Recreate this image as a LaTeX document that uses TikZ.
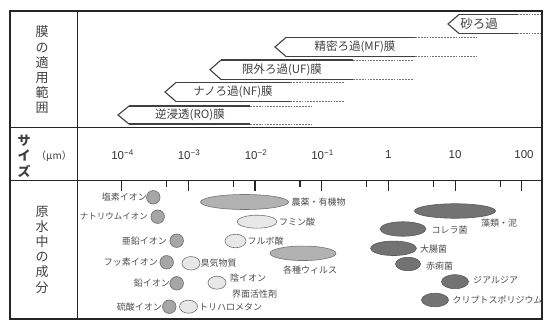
\documentclass[tikz,border=0pt]{standalone}
\usepackage{fontspec}
\setmainfont{Liberation Sans}
\newfontfamily\jp{Noto Sans CJK JP}
\usetikzlibrary{shapes.geometric}
\begin{document}
\begin{tikzpicture}[x=1pt,y=-1pt,
  frame/.style={draw=black!85, line width=1.3pt},
  sepline/.style={draw=black!85, line width=1.6pt},
  bandsolid/.style={draw=black!75, line width=1.1pt, line join=miter},
  banddash/.style={draw=black!55, line width=0.8pt, dash pattern=on 1.8pt off 1.1pt},
  bandlabel/.style={font=\jp\fontsize{11.5}{12}\selectfont, text=black!75, inner sep=0},
  sidelabel/.style={font=\jp\fontsize{13}{15.2}\selectfont, text=black!75, align=center, inner sep=0},
  ticklabel/.style={font=\fontsize{11.5}{12}\selectfont, text=black!80, inner sep=0},
  itemlabel/.style={font=\jp\fontsize{9}{11}\selectfont, text=black!70, inner sep=0},
  ion/.style={circle, draw=black!60, fill=black!35, line width=0.6pt, minimum size=13.5pt, inner sep=0},
  lightov/.style={ellipse, draw=black!55, fill=black!9, line width=0.6pt, inner sep=0},
  midov/.style={ellipse, draw=black!55, fill=black!30, line width=0.6pt, inner sep=0},
  darkov/.style={ellipse, draw=black!65, fill=black!55, line width=0.6pt, inner sep=0},
  tickmark/.style={draw=black!85, line width=1.1pt},
]
\useasboundingbox (0,0) rectangle (545,320);

% frame and grid
\draw[frame] (10,11) rectangle (542,319);
\draw[frame] (77.5,11) -- (77.5,319);
\draw[sepline] (10,127.5) -- (542,127.5);
\draw[sepline] (10,180.5) -- (542,180.5);

% side labels
\node[sidelabel] (lmem) at (42,70) {膜\\の\\適\\用\\範\\囲};
\node[sidelabel, font=\jp\bfseries\fontsize{13}{15.5}\selectfont] (lsize) at (24,156) {サ\\イ\\ズ};
\node[inner sep=0, font=\jp\fontsize{10}{12}\selectfont, text=black!75] (lunit) at (54,156) {（μm）};
\node[sidelabel] (lraw) at (42,249.5) {原\\水\\中\\の\\成\\分};

% membrane bands: tip x, top y, bottom y, solid end, dashed end
\foreach \xt/\yt/\yb/\xs/\xd in {448/14.5/33.5/517/541, 275/37.5/56.5/415/477, 210/60/79.5/353/413, 165/82.5/101.5/290/345, 118/106/124/250/312}{
  \draw[bandsolid] (\xt+11,\yt) -- (\xt,{(\yt+\yb)/2}) -- (\xt+11,\yb);
  \draw[bandsolid] (\xt+11,\yt) -- (\xs,\yt);
  \draw[bandsolid] (\xt+11,\yb) -- (\xs,\yb);
  \draw[banddash] (\xs,\yt) -- (\xd,\yt);
  \draw[banddash] (\xs,\yb) -- (\xd,\yb);
}
\node[bandlabel, font=\jp\fontsize{12.5}{13}\selectfont] (bsand) at (479,24) {砂ろ過};
\node[bandlabel] (bmf) at (355,47) {精密ろ過(MF)膜};
\node[bandlabel] (buf) at (282,70) {限外ろ過(UF)膜};
\node[bandlabel] (bnf) at (233,92) {ナノろ過(NF)膜};
\node[bandlabel] (bro) at (190,115) {逆浸透(RO)膜};

% size axis labels
\node[ticklabel] (s1) at (122.5,155) {10\textsuperscript{−4}};
\node[ticklabel] (s2) at (189,155) {10\textsuperscript{−3}};
\node[ticklabel] (s3) at (256,155) {10\textsuperscript{−2}};
\node[ticklabel] (s4) at (322.5,155) {10\textsuperscript{−1}};
\node[ticklabel] (s5) at (388.3,155) {1};
\node[ticklabel] (s6) at (455,155) {10};
\node[ticklabel] (s7) at (524,155) {100};

% ticks
\foreach \k in {0,...,6}{
  \draw[tickmark] ({121.7+66.67*\k},180.5) -- ({121.7+66.67*\k},191.5);
}
\foreach \k in {0,...,5}{
  \draw[tickmark] ({166.7+66.67*\k},180.5) -- ({166.7+66.67*\k},187);
}

% ions (circles)
\node[ion] (c1) at (153.3,197.3) {};
\node[ion] (c2) at (157.7,216.7) {};
\node[ion] (c3) at (176.7,240.7) {};
\node[ion] (c4) at (166.7,262.3) {};
\node[ion] (c5) at (176.7,283.3) {};
\node[ion] (c6) at (169.3,306.7) {};
\node[itemlabel, anchor=east] (t1) at (147,197.3) {塩素イオン};
\node[itemlabel, anchor=east, font=\jp\fontsize{8.5}{11}\selectfont] (t2) at (148,216.7) {ナトリウムイオン};
\node[itemlabel, anchor=east] (t3) at (167,240.7) {亜鉛イオン};
\node[itemlabel, anchor=east] (t4) at (158,262.3) {フッ素イオン};
\node[itemlabel, anchor=east] (t5) at (170,283.3) {鉛イオン};
\node[itemlabel, anchor=east] (t6) at (162,306.7) {硫酸イオン};

% light ovals
\node[lightov, minimum width=18pt, minimum height=13.5pt] (o1) at (191,263.3) {};
\node[lightov, minimum width=18pt, minimum height=13pt] (o2) at (217,282.7) {};
\node[lightov, minimum width=18pt, minimum height=13pt] (o3) at (188.5,306.7) {};
\node[lightov, minimum width=21pt, minimum height=13.5pt] (o4) at (235.5,241) {};
\node[lightov, minimum width=40pt, minimum height=13pt] (o5) at (257,221.7) {};
\node[itemlabel, anchor=west] (u1) at (200.5,263.3) {臭気物質};
\node[itemlabel, anchor=west] (u2) at (230,278) {陰イオン};
\node[itemlabel, anchor=west] (u2b) at (232,294.5) {界面活性剤};
\node[itemlabel, anchor=west] (u3) at (199,306.7) {トリハロメタン};
\node[itemlabel, anchor=west] (u4) at (247.5,241) {フルボ酸};
\node[itemlabel, anchor=west] (u5) at (279,221.7) {フミン酸};

% medium ovals
\node[midov, minimum width=88pt, minimum height=15pt] (m1) at (244.5,202) {};
\node[midov, minimum width=66pt, minimum height=14.5pt] (m2) at (303,253.3) {};
\node[itemlabel, anchor=west] (v1) at (291.5,202) {農薬・有機物};
\node[itemlabel] (v2) at (310,270.3) {各種ウィルス};

% dark ovals
\node[darkov, minimum width=81pt, minimum height=14.5pt] (d1) at (455,211) {};
\node[darkov, minimum width=46pt, minimum height=14.5pt] (d2) at (403,229) {};
\node[darkov, minimum width=46pt, minimum height=14.5pt] (d3) at (393.5,248.3) {};
\node[darkov, minimum width=25pt, minimum height=13.5pt] (d4) at (408,264) {};
\node[darkov, minimum width=27pt, minimum height=14pt] (d5) at (455,281.7) {};
\node[darkov, minimum width=27pt, minimum height=13.5pt] (d6) at (435,300) {};
\node[itemlabel] (w1) at (499,223.3) {藻類・泥};
\node[itemlabel, anchor=west] (w2) at (431.5,230) {コレラ菌};
\node[itemlabel, anchor=west] (w3) at (420,249.5) {大腸菌};
\node[itemlabel, anchor=west] (w4) at (426,266) {赤痢菌};
\node[itemlabel, anchor=west] (w5) at (473,280.5) {ジアルジア};
\node[itemlabel, anchor=west] (w6) at (452.5,300) {クリプトスポリジウム};
\end{tikzpicture}
\end{document}
